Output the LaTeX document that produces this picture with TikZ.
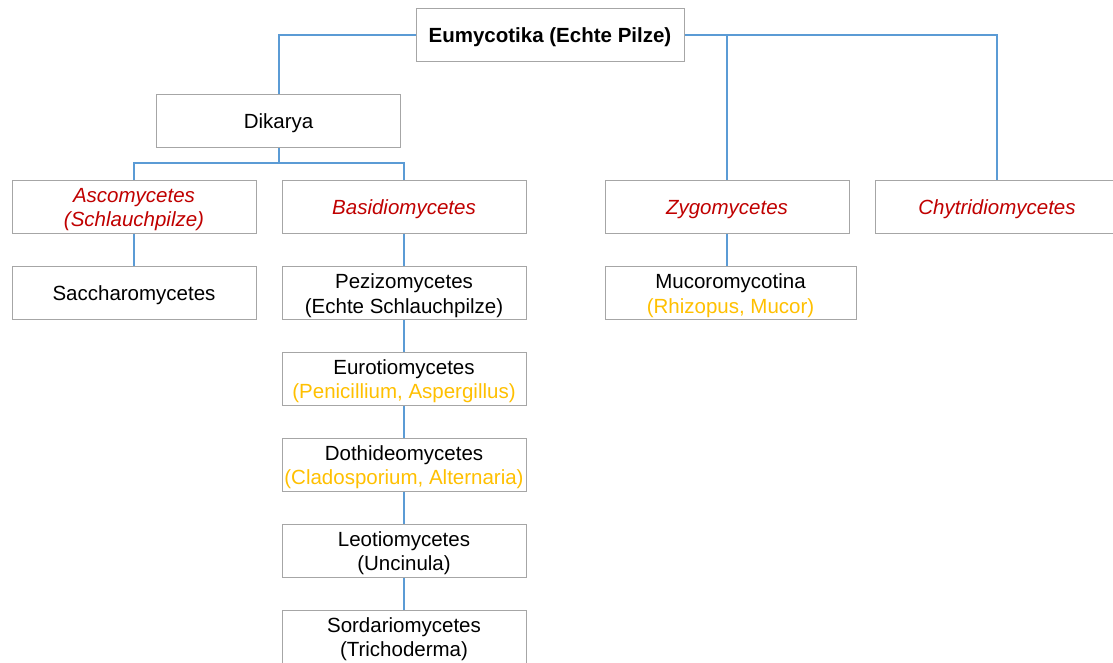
\documentclass[tikz,border=0pt]{standalone}
\usepackage{fontspec}
\setmainfont{Liberation Sans}
\definecolor{conncol}{HTML}{5B9BD5}
\definecolor{boxcol}{HTML}{A6A6A6}
\definecolor{redtxt}{HTML}{C00000}
\definecolor{orgtxt}{HTML}{FFC000}
\tikzset{
  box/.style={draw=boxcol, line width=1pt, fill=white, minimum width=244pt, minimum height=53pt,
    inner sep=0pt, font=\fontsize{20.5}{24.5}\selectfont},
  conn/.style={draw=conncol, line width=2pt},
  red/.style={text=redtxt, font=\fontsize{20.5}{24.5}\selectfont\itshape}
}
\newcommand{\orng}[1]{\textcolor{orgtxt}{#1}}
\newcommand{\tx}[1]{\raisebox{-3pt}[\height][\depth]{\begin{tabular}{@{}c@{}}#1\end{tabular}}}
\begin{document}
\begin{tikzpicture}[x=1pt,y=-1pt]
\useasboundingbox (0,0) rectangle (1113,662);
\clip (0,0) rectangle (1113,662);
\fill[white] (0,0) rectangle (1113,662);
% nodes
\node[box, minimum width=268pt] (root) at (550,34.5) {\tx{\textbf{Eumycotika (Echte Pilze)}}};
\node[box] (dik) at (278.5,120.5) {\tx{Dikarya}};
\node[box, red] (asc) at (134,206.5) {\tx{Ascomycetes\\(Schlauchpilze)}};
\node[box, red] (bas) at (404,206.5) {\tx{Basidiomycetes}};
\node[box, red] (zyg) at (727,206.5) {\tx{Zygomycetes}};
\node[box, red] (chy) at (997,206.5) {\tx{Chytridiomycetes}};
\node[box] (sac) at (134,293) {\tx{Saccharomycetes}};
\node[box] (pez) at (404,293) {\tx{Pezizomycetes\\(Echte Schlauchpilze)}};
\node[box] (eur) at (404,378.5) {\tx{Eurotiomycetes\\\orng{(Penicillium, Aspergillus)}}};
\node[box] (dot) at (404,464.5) {\tx{Dothideomycetes\\\orng{(Cladosporium, Alternaria)}}};
\node[box] (leo) at (404,550.5) {\tx{Leotiomycetes\\(Uncinula)}};
\node[box] (sor) at (404,636.5) {\tx{Sordariomycetes\\(Trichoderma)}};
\node[box, minimum width=251pt] (muc) at (730.5,293) {\tx{Mucoromycotina\\\orng{(Rhizopus, Mucor)}}};
% connectors
\coordinate (dj) at (278.5,163);
\draw[conn] (root.west) -| (dik.north);
\draw[conn] (root.east) -| (chy.north);
\draw[conn] (zyg.north) |- (root.east);
\draw[conn] (dik.south) -- (dj);
\draw[conn] (dj) -| (asc.north);
\draw[conn] (dj) -| (bas.north);
\draw[conn] (asc.south) -- (sac.north);
\draw[conn] (bas.south) -- (pez.north);
\draw[conn] (pez.south) -- (eur.north);
\draw[conn] (eur.south) -- (dot.north);
\draw[conn] (dot.south) -- (leo.north);
\draw[conn] (leo.south) -- (sor.north);
\draw[conn] (zyg.south) -- (zyg.south |- muc.north);
\end{tikzpicture}
\end{document}
